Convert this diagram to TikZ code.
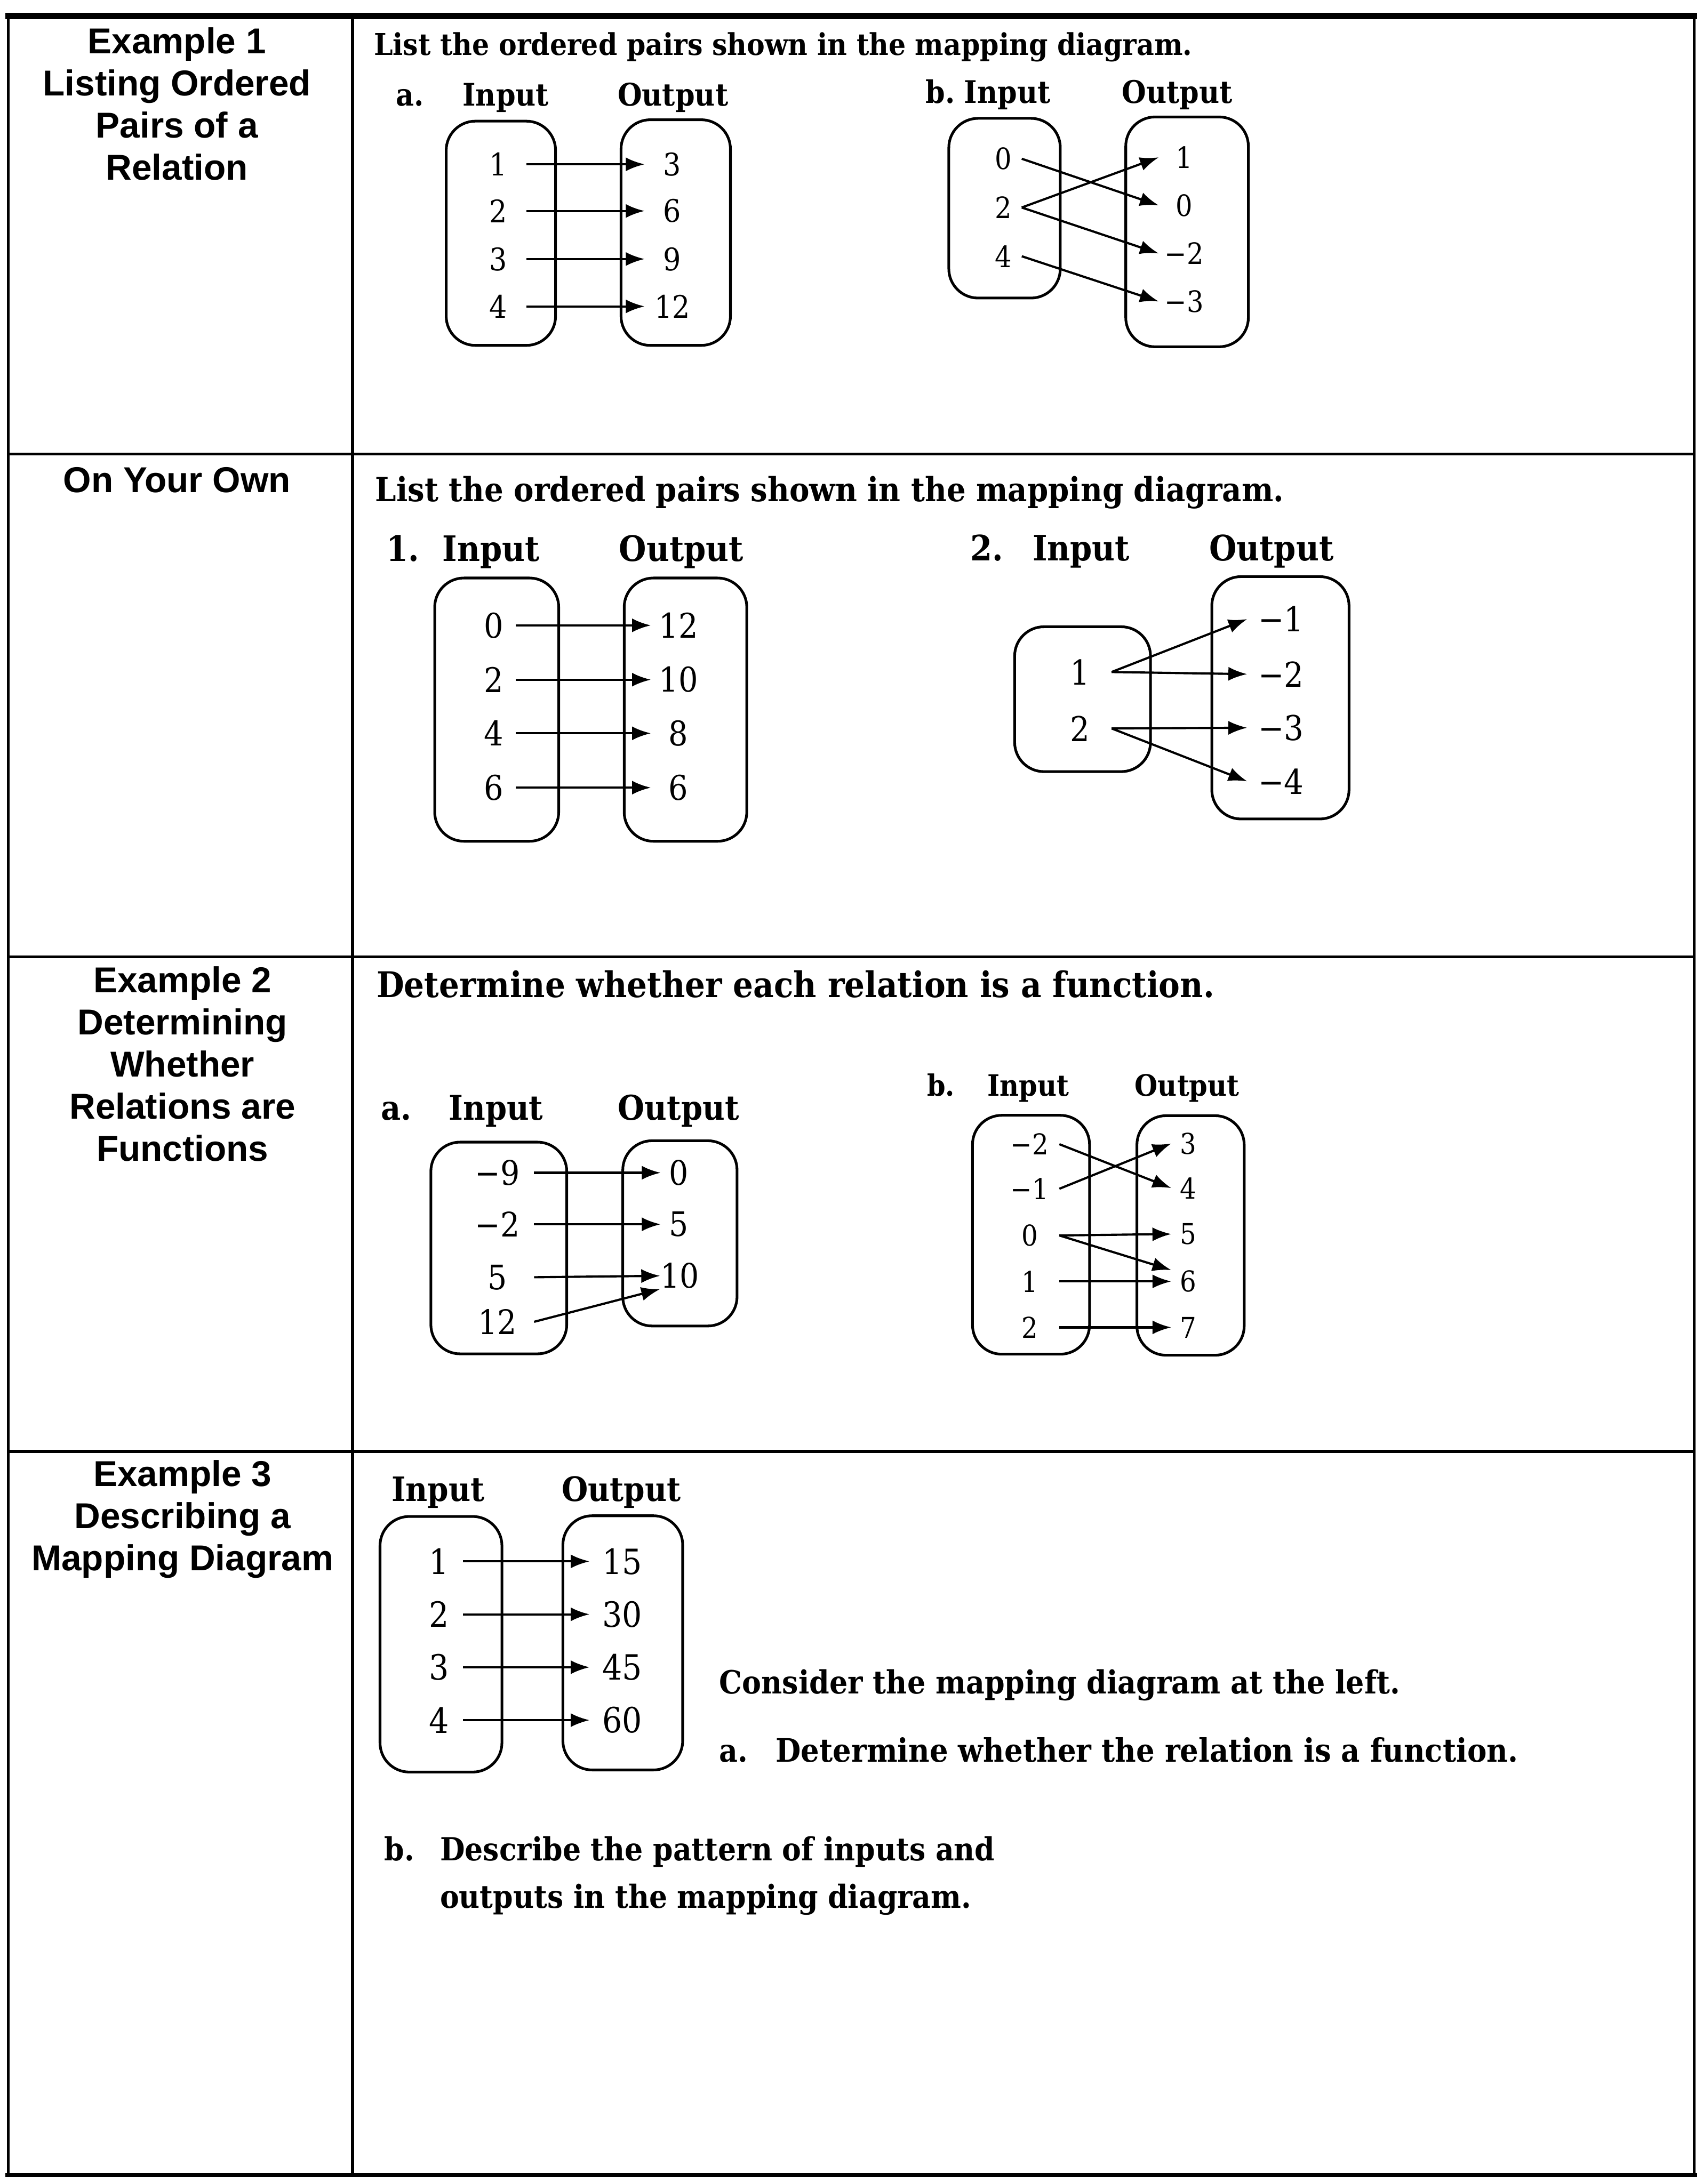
\documentclass[tikz,border=0pt]{standalone}
\usepackage{fontspec}
\newfontfamily\headsans{Liberation Sans}
\newfontfamily\bookserif[FakeStretch=0.9]{DejaVu Serif}
\usetikzlibrary{arrows.meta}

\begin{document}
\begin{tikzpicture}[
  rowlabel/.style={font=\headsans\bfseries\fontsize{14.7pt}{17.2pt}\selectfont,align=center,anchor=north,inner sep=0pt},
  task/.style={font=\bookserif\bfseries\fontsize{#1pt}{#1pt}\selectfont,anchor=base west,inner sep=0pt},
  hdr/.style={font=\bookserif\bfseries\fontsize{#1pt}{#1pt}\selectfont,anchor=base,inner sep=0pt},
  num/.style 2 args={font=\bookserif\fontsize{#1pt}{#1pt}\selectfont,inner sep=0pt,minimum width=#2cm},
  setbox/.style={draw,rounded corners=4.2mm,line width=1.1pt,inner sep=0pt},
  maparrow/.style={-{Latex[length=2.7mm,width=2mm]},line width=0.9pt}]
  \useasboundingbox (0,0) rectangle (24.44,31.36);
  % Table frame
  \draw[line width=1.2pt] (0.12,31.13) -- (0.12,0.13);
  \draw[line width=1.2pt] (24.32,31.13) -- (24.32,0.13);
  \draw[line width=2.6pt] (0.08,31.13) -- (24.36,31.13);
  \draw[line width=1.8pt] (0.08,0.13) -- (24.36,0.13);
  \draw[line width=1.2pt] (5.06,31.13) -- (5.06,0.13);
  \draw[line width=1.2pt] (0.12,24.84) -- (24.32,24.84);
  \draw[line width=1.2pt] (0.12,17.62) -- (24.32,17.62);
  \draw[line width=1.2pt] (0.12,10.52) -- (24.32,10.52);
  % Row labels
  \node[rowlabel] (lab1) at (2.54,30.97) {Example 1\\Listing Ordered\\Pairs of a\\Relation};
  \node[rowlabel] (lab2) at (2.54,24.66) {On Your Own};
  \node[rowlabel] (lab3) at (2.62,17.49) {Example 2\\Determining\\Whether\\Relations are\\Functions};
  \node[rowlabel] (lab4) at (2.62,10.40) {Example 3\\Describing a\\Mapping Diagram};
  % Tasks
  \node[task=12.25] (ask1) at (5.36,30.57) {List the ordered pairs shown in the mapping diagram.};
  \node[task=13.6] (ask2) at (5.38,24.16) {List the ordered pairs shown in the mapping diagram.};
  \node[task=14.45] (ask3) at (5.40,17.04) {Determine whether each relation is a function.};

  % Example 1 a
  \node[hdr=12.7,anchor=base west] (exa-tag) at (5.68,29.84) {a.};
  \node[hdr=12.7] (exa-inhdr) at (7.26,29.84) {Input};
  \node[hdr=12.7] (exa-outhdr) at (9.66,29.84) {Output};
  \node[setbox,minimum width=1.57cm,minimum height=3.22cm] (exa-dom) at (7.19,28.01) {};
  \node[setbox,minimum width=1.57cm,minimum height=3.24cm] (exa-rng) at (9.70,28.02) {};
  \node[num={12.7}{0.8}] (exa-i1) at (7.15,29.00) {1};
  \node[num={12.7}{0.8}] (exa-i2) at (7.15,28.33) {2};
  \node[num={12.7}{0.8}] (exa-i3) at (7.15,27.64) {3};
  \node[num={12.7}{0.8}] (exa-i4) at (7.15,26.96) {4};
  \node[num={12.7}{0.78}] (exa-o1) at (9.65,29.00) {3};
  \node[num={12.7}{0.78}] (exa-o2) at (9.65,28.33) {6};
  \node[num={12.7}{0.78}] (exa-o3) at (9.65,27.64) {9};
  \node[num={12.7}{0.78}] (exa-o4) at (9.65,26.96) {12};
  \draw[maparrow] (exa-i1.east) -- (exa-o1.west);
  \draw[maparrow] (exa-i2.east) -- (exa-o2.west);
  \draw[maparrow] (exa-i3.east) -- (exa-o3.west);
  \draw[maparrow] (exa-i4.east) -- (exa-o4.west);

  % Example 1 b
  \node[hdr=12.7,anchor=base west] (exb-tag) at (13.28,29.88) {b.};
  \node[hdr=12.7] (exb-inhdr) at (14.46,29.88) {Input};
  \node[hdr=12.7] (exb-outhdr) at (16.90,29.88) {Output};
  \node[setbox,minimum width=1.60cm,minimum height=2.58cm] (exb-dom) at (14.42,28.37) {};
  \node[setbox,minimum width=1.76cm,minimum height=3.30cm] (exb-rng) at (17.04,28.03) {};
  \node[num={12}{0.52}] (exb-i1) at (14.40,29.08) {0};
  \node[num={12}{0.52}] (exb-i2) at (14.40,28.38) {2};
  \node[num={12}{0.52}] (exb-i3) at (14.40,27.68) {4};
  \node[num={12}{0.72}] (exb-o1) at (17.00,29.10) {1};
  \node[num={12}{0.72}] (exb-o2) at (17.00,28.41) {0};
  \node[num={12}{0.72}] (exb-o3) at (17.00,27.72) {−2};
  \node[num={12}{0.72}] (exb-o4) at (17.00,27.03) {−3};
  \draw[maparrow] (exb-i1.east) -- (exb-o2.west);
  \draw[maparrow] (exb-i2.east) -- (exb-o1.west);
  \draw[maparrow] (exb-i2.east) -- (exb-o3.west);
  \draw[maparrow] (exb-i3.east) -- (exb-o4.west);

  % On Your Own 1
  \node[hdr=14.3,anchor=base west] (owa-tag) at (5.54,23.30) {1.};
  \node[hdr=14.3] (owa-inhdr) at (7.05,23.30) {Input};
  \node[hdr=14.3] (owa-outhdr) at (9.78,23.30) {Output};
  \node[setbox,minimum width=1.78cm,minimum height=3.78cm] (owa-dom) at (7.13,21.17) {};
  \node[setbox,minimum width=1.76cm,minimum height=3.78cm] (owa-rng) at (9.84,21.17) {};
  \node[num={13.9}{0.62}] (owa-i1) at (7.09,22.38) {0};
  \node[num={13.9}{0.62}] (owa-i2) at (7.09,21.60) {2};
  \node[num={13.9}{0.62}] (owa-i3) at (7.09,20.83) {4};
  \node[num={13.9}{0.62}] (owa-i4) at (7.09,20.05) {6};
  \node[num={13.9}{0.78}] (owa-o1) at (9.74,22.38) {12};
  \node[num={13.9}{0.78}] (owa-o2) at (9.74,21.60) {10};
  \node[num={13.9}{0.78}] (owa-o3) at (9.74,20.83) {8};
  \node[num={13.9}{0.78}] (owa-o4) at (9.74,20.05) {6};
  \draw[maparrow] (owa-i1.east) -- (owa-o1.west);
  \draw[maparrow] (owa-i2.east) -- (owa-o2.west);
  \draw[maparrow] (owa-i3.east) -- (owa-o3.west);
  \draw[maparrow] (owa-i4.east) -- (owa-o4.west);

  % On Your Own 2
  \node[hdr=14.3,anchor=base west] (owb-tag) at (13.92,23.31) {2.};
  \node[hdr=14.3] (owb-inhdr) at (15.52,23.31) {Input};
  \node[hdr=14.3] (owb-outhdr) at (18.25,23.31) {Output};
  \node[setbox,minimum width=1.95cm,minimum height=2.08cm] (owb-dom) at (15.54,21.32) {};
  \node[setbox,minimum width=1.97cm,minimum height=3.48cm] (owb-rng) at (18.38,21.34) {};
  \node[num={14}{0.90}] (owb-i1) at (15.50,21.71) {1};
  \node[num={14}{0.90}] (owb-i2) at (15.50,20.90) {2};
  \node[num={14}{0.96}] (owb-o1) at (18.39,22.47) {−1};
  \node[num={14}{0.96}] (owb-o2) at (18.39,21.68) {−2};
  \node[num={14}{0.96}] (owb-o3) at (18.39,20.91) {−3};
  \node[num={14}{0.96}] (owb-o4) at (18.39,20.14) {−4};
  \draw[maparrow] (owb-i1.east) -- (owb-o1.west);
  \draw[maparrow] (owb-i1.east) -- (owb-o2.west);
  \draw[maparrow] (owb-i2.east) -- (owb-o3.west);
  \draw[maparrow] (owb-i2.east) -- (owb-o4.west);

  % Example 2 a
  \node[hdr=13.9,anchor=base west] (fna-tag) at (5.46,15.28) {a.};
  \node[hdr=13.9] (fna-inhdr) at (7.12,15.28) {Input};
  \node[hdr=13.9] (fna-outhdr) at (9.74,15.28) {Output};
  \node[setbox,minimum width=1.95cm,minimum height=3.04cm] (fna-dom) at (7.16,13.44) {};
  \node[setbox,minimum width=1.64cm,minimum height=2.66cm] (fna-rng) at (9.76,13.65) {};
  \node[num={13.8}{1.04}] (fna-i1) at (7.14,14.52) {−9};
  \node[num={13.8}{1.04}] (fna-i2) at (7.14,13.78) {−2};
  \node[num={13.8}{1.04}] (fna-i3) at (7.14,13.02) {5};
  \node[num={13.8}{1.04}] (fna-i4) at (7.14,12.38) {12};
  \node[num={13.8}{0.50}] (fna-o1) at (9.74,14.52) {0};
  \node[num={13.8}{0.50}] (fna-o2) at (9.74,13.78) {5};
  \node[num={13.8}{0.50}] (fna-o3) at (9.76,13.04) {10};
  \draw[maparrow] (fna-i1.east) -- (fna-o1.west);
  \draw[maparrow] (fna-i2.east) -- (fna-o2.west);
  \draw[maparrow] (fna-i3.east) -- (fna-o3.west);
  \draw[maparrow] (fna-i4.east) -- (fna-o3.south west);

  % Example 2 b
  \node[hdr=12,anchor=base west] (fnb-tag) at (13.30,15.62) {b.};
  \node[hdr=12] (fnb-inhdr) at (14.76,15.62) {Input};
  \node[hdr=12] (fnb-outhdr) at (17.04,15.62) {Output};
  \node[setbox,minimum width=1.68cm,minimum height=3.43cm] (fnb-dom) at (14.80,13.63) {};
  \node[setbox,minimum width=1.54cm,minimum height=3.44cm] (fnb-rng) at (17.09,13.62) {};
  \node[num={11.7}{0.84}] (fnb-i1) at (14.78,14.93) {−2};
  \node[num={11.7}{0.84}] (fnb-i2) at (14.78,14.29) {−1};
  \node[num={11.7}{0.84}] (fnb-i3) at (14.78,13.62) {0};
  \node[num={11.7}{0.84}] (fnb-i4) at (14.78,12.96) {1};
  \node[num={11.7}{0.84}] (fnb-i5) at (14.78,12.30) {2};
  \node[num={11.7}{0.48}] (fnb-o1) at (17.06,14.94) {3};
  \node[num={11.7}{0.48}] (fnb-o2) at (17.06,14.30) {4};
  \node[num={11.7}{0.48}] (fnb-o3) at (17.06,13.64) {5};
  \node[num={11.7}{0.48}] (fnb-o4) at (17.06,12.96) {6};
  \node[num={11.7}{0.48}] (fnb-o5) at (17.06,12.30) {7};
  \draw[maparrow] (fnb-i1.east) -- (fnb-o2.west);
  \draw[maparrow] (fnb-i2.east) -- (fnb-o1.west);
  \draw[maparrow] (fnb-i3.east) -- (fnb-o3.west);
  \draw[maparrow] (fnb-i3.east) -- (fnb-o4.north west);
  \draw[maparrow] (fnb-i4.east) -- (fnb-o4.west);
  \draw[maparrow] (fnb-i5.east) -- (fnb-o5.west);

  % Example 3
  \node[hdr=13.7] (map-inhdr) at (6.29,9.80) {Input};
  \node[hdr=13.7] (map-outhdr) at (8.92,9.80) {Output};
  \node[setbox,minimum width=1.75cm,minimum height=3.67cm] (map-dom) at (6.33,7.75) {};
  \node[setbox,minimum width=1.72cm,minimum height=3.65cm] (map-rng) at (8.94,7.77) {};
  \node[num={14.2}{0.68}] (map-i1) at (6.30,8.94) {1};
  \node[num={14.2}{0.68}] (map-i2) at (6.30,8.18) {2};
  \node[num={14.2}{0.68}] (map-i3) at (6.30,7.42) {3};
  \node[num={14.2}{0.68}] (map-i4) at (6.30,6.66) {4};
  \node[num={14.2}{0.92}] (map-o1) at (8.93,8.94) {15};
  \node[num={14.2}{0.92}] (map-o2) at (8.93,8.18) {30};
  \node[num={14.2}{0.92}] (map-o3) at (8.93,7.42) {45};
  \node[num={14.2}{0.92}] (map-o4) at (8.93,6.66) {60};
  \draw[maparrow] (map-i1.east) -- (map-o1.west);
  \draw[maparrow] (map-i2.east) -- (map-o2.west);
  \draw[maparrow] (map-i3.east) -- (map-o3.west);
  \draw[maparrow] (map-i4.east) -- (map-o4.west);
  \node[task=13.05] (map-note) at (10.32,7.04) {Consider the mapping diagram at the left.};
  \node[task=13.05] (map-atag) at (10.32,6.06) {a.};
  \node[task=13.2] (map-atext) at (11.13,6.06) {Determine whether the relation is a function.};
  \node[task=13] (map-btag) at (5.51,4.64) {b.};
  \node[task=13] (map-btext1) at (6.31,4.64) {Describe the pattern of inputs and};
  \node[task=13] (map-btext2) at (6.31,3.96) {outputs in the mapping diagram.};
\end{tikzpicture}
\end{document}
